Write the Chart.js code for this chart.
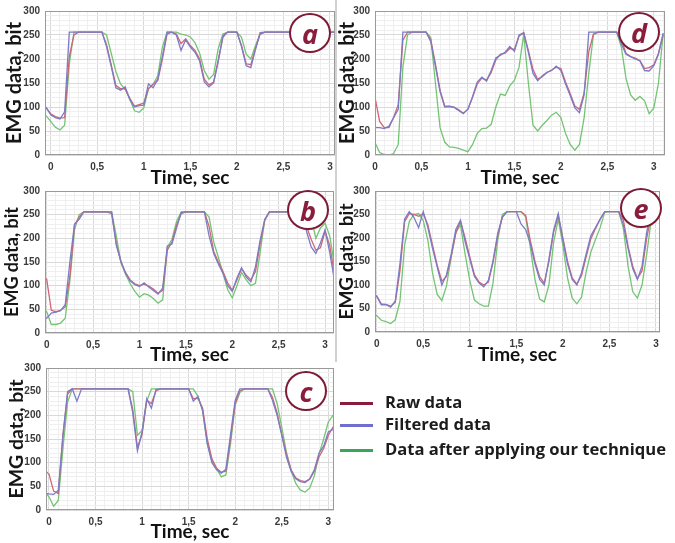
<!DOCTYPE html>
<html>
<head>
<meta charset="utf-8">
<script src="https://cdn.jsdelivr.net/npm/chart.js@4.4.1/dist/chart.umd.min.js"></script>
<style>
  html, body { margin: 0; padding: 0; background: #ffffff; }
  #fig { position: relative; width: 675px; height: 543px; overflow: hidden; background: #ffffff; }
  #fig canvas { position: absolute; }
  .tag {
    position: absolute; box-sizing: border-box; width: 42px; height: 40px;
    border: 2.5px solid #7d1b36; border-radius: 50%; background: #ffffff;
    color: #8a1d3c; font: italic bold 27px "Open Sans", sans-serif;
    display: flex; align-items: center; justify-content: center; line-height: 1;
  }
  .swatch { position: absolute; left: 340px; width: 33px; height: 3px; }
  .key { position: absolute; left: 385px; font: bold 16.6px "Open Sans", sans-serif; color: #1c1c1c; line-height: 20px; white-space: nowrap; }
  .sep { position: absolute; left: 335px; top: 0; width: 1.5px; height: 362px; background: #d2d2d2; }
</style>
</head>
<body>
<div id="fig">
  <div class="sep"></div>
  <canvas id="panelA" width="340" height="190" style="left:0px;top:0px;width:340px;height:190px"></canvas>
  <canvas id="panelD" width="340" height="190" style="left:335px;top:0px;width:340px;height:190px"></canvas>
  <canvas id="panelB" width="340" height="190" style="left:0px;top:180px;width:340px;height:190px"></canvas>
  <canvas id="panelE" width="340" height="190" style="left:335px;top:180px;width:340px;height:190px"></canvas>
  <canvas id="panelC" width="340" height="186" style="left:0px;top:357px;width:340px;height:186px"></canvas>

  <div class="tag" style="left:289px;top:13px">a</div>
  <div class="tag" style="left:618px;top:12px">d</div>
  <div class="tag" style="left:287px;top:190px">b</div>
  <div class="tag" style="left:620px;top:188px">e</div>
  <div class="tag" style="left:285px;top:371px">c</div>

  <div class="swatch" style="top:402px;background:#8b1c3c"></div>
  <div class="key" style="top:392px">Raw data</div>
  <div class="swatch" style="top:424px;background:#6f6fd0"></div>
  <div class="key" style="top:414px">Filtered data</div>
  <div class="swatch" style="top:449px;background:#3aa65a"></div>
  <div class="key" style="top:439px">Data after applying our technique</div>
</div>

<script>
// Sample times (s), shared by every panel
const timeSec = [-0.05, 0, 0.05, 0.1, 0.15, 0.2, 0.25, 0.3, 0.35, 0.4, 0.45, 0.5, 0.55, 0.6, 0.65, 0.7,
  0.75, 0.8, 0.85, 0.9, 0.95, 1, 1.05, 1.1, 1.15, 1.2, 1.25, 1.3, 1.35, 1.4, 1.45, 1.5, 1.55, 1.6, 1.65,
  1.7, 1.75, 1.8, 1.85, 1.9, 1.95, 2, 2.05, 2.1, 2.15, 2.2, 2.25, 2.3, 2.35, 2.4, 2.45, 2.5, 2.55, 2.6,
  2.65, 2.7, 2.75, 2.8, 2.85, 2.9, 2.95, 3, 3.05, 3.1];

// Panel a
const aRaw = [98,86,80,77,78,205,250,256,256,256,256,256,256,230,188,145,138,138,118,102,105,108,138,148,155,200,252,256,252,232,242,228,218,200,158,146,152,198,245,256,256,256,228,190,188,222,252,256,256,256,256,256,256,256,256,256,256,256,256,256,256,256,256,256];
const aFiltered = [100,84,78,75,90,256,256,256,256,256,256,256,256,226,185,140,135,142,115,100,103,104,148,140,158,205,256,256,250,218,240,225,214,196,152,142,150,195,248,256,256,256,226,186,182,220,255,256,256,256,256,256,256,256,256,256,256,256,256,256,256,256,256,256];
const aTechnique = [82,70,58,52,62,190,256,256,256,256,256,256,256,250,212,174,148,137,116,92,89,98,138,147,165,225,256,256,256,252,250,246,234,212,176,158,168,222,252,256,256,256,245,210,200,228,252,256,256,256,256,256,256,256,256,256,256,256,256,256,256,256,256,256];

// Panel b
const bRaw = [118,114,48,45,48,55,120,228,245,256,256,256,256,256,256,252,190,150,128,112,104,100,103,99,93,84,90,175,192,228,252,256,256,256,256,256,225,172,150,130,106,90,112,136,122,112,130,188,238,256,256,256,256,256,256,256,250,225,198,175,180,215,185,125];
const bFiltered = [35,31,42,44,47,60,150,230,240,256,256,256,256,256,256,256,185,152,126,110,102,98,106,97,90,82,95,184,188,222,255,256,256,256,256,256,205,168,146,126,100,88,116,138,118,108,140,196,240,256,256,256,256,256,256,256,256,215,182,168,190,218,170,112];
const bTechnique = [52,45,18,18,21,31,110,218,250,256,256,256,256,256,256,256,205,149,124,104,88,76,83,80,73,63,70,180,198,236,256,256,256,256,256,256,245,192,160,126,92,74,100,128,112,100,105,170,240,256,256,256,256,256,256,256,256,256,245,200,222,232,205,145];

// Panel c
const cRaw = [85,76,40,35,160,245,256,256,256,256,256,256,256,256,256,256,256,256,256,212,132,160,232,225,252,256,256,256,256,256,256,256,235,236,215,150,108,88,80,82,150,225,252,256,256,256,256,256,256,238,205,160,118,85,68,62,60,65,82,112,130,158,175,185];
const cFiltered = [36,34,33,42,155,250,256,230,256,256,256,256,256,256,256,256,256,256,256,205,125,165,235,215,255,256,256,256,256,256,256,256,230,240,210,140,100,85,78,86,160,232,256,256,256,256,256,256,256,232,200,158,112,82,66,60,58,66,85,120,135,165,170,190];
const cTechnique = [40,28,8,20,130,228,256,256,256,256,256,256,256,256,256,256,256,256,256,250,158,168,230,256,256,256,256,256,256,256,256,256,256,240,210,140,104,88,70,74,140,222,248,256,256,256,256,256,256,256,225,175,122,84,56,42,38,46,72,118,150,186,200,210];

// Panel d
const dRaw = [125,120,70,57,57,78,105,239,256,256,256,256,256,240,190,135,102,102,100,94,87,95,120,148,160,156,172,198,210,212,222,220,248,254,218,178,158,163,172,177,183,180,152,128,102,95,130,215,252,256,256,256,256,256,240,212,205,202,197,180,182,188,212,250];
const dFiltered = [58,57,57,55,60,78,95,256,256,256,256,256,256,236,185,132,100,101,99,93,86,96,122,152,162,154,176,202,208,214,226,216,250,255,214,170,155,165,172,176,185,176,148,124,98,88,125,256,256,256,256,256,256,256,232,210,205,200,196,176,175,186,210,254];
const dTechnique = [40,26,5,1,0,3,22,183,250,256,256,256,256,245,150,57,27,17,16,14,10,7,22,45,55,56,64,100,127,124,144,156,183,252,150,62,50,62,72,83,89,78,45,22,10,22,78,170,250,256,256,256,256,256,225,160,125,114,122,113,86,98,150,253];

// Panel e
const eRaw = [80,77,60,59,55,63,130,235,252,250,246,252,228,185,142,108,118,160,210,236,200,160,122,106,100,106,148,205,245,256,256,256,256,248,195,150,118,104,150,212,248,200,150,115,102,120,160,198,220,240,256,256,256,256,238,182,140,114,130,200,248,256,256,256];
const eFiltered = [78,76,58,58,53,66,145,240,256,244,222,256,222,178,138,100,122,165,218,238,192,155,118,104,96,110,152,210,244,256,256,256,230,218,188,145,112,100,155,216,252,195,145,112,100,126,166,205,222,240,256,256,256,256,228,178,135,112,140,212,256,256,256,256];
const eTechnique = [38,35,25,22,18,26,65,185,235,250,252,237,195,125,80,67,98,160,212,228,165,110,68,60,55,55,105,195,250,256,256,256,256,245,180,112,70,64,100,190,240,185,115,72,60,74,128,170,197,222,255,256,256,256,220,140,86,72,100,165,240,256,256,256];

// Series names
const seriesNames = ['Raw data', 'Filtered data', 'Data after applying our technique'];

// Layout of each subplot inside the figure
const panels = [
  { id: 'panelA', padTop: 8, padRight: 5, yAxisW: 45, xAxisH: 35, xMin: -0.061, xMax: 3.054, xTitlePad: 1,   yTitlePad: 3,   yTitleSize: 20,   series: [aRaw, aFiltered, aTechnique] },
  { id: 'panelD', padTop: 9, padRight: 10, yAxisW: 40, xAxisH: 35, xMin: 0,      xMax: 3.12,  xTitlePad: 1,   yTitlePad: 0.5, yTitleSize: 20,   series: [dRaw, dFiltered, dTechnique] },
  { id: 'panelB', padTop: 8, padRight: 6, yAxisW: 45, xAxisH: 37, xMin: -0.018, xMax: 3.096, xTitlePad: 3.6, yTitlePad: 1.7, yTitleSize: 18,   series: [bRaw, bFiltered, bTechnique] },
  { id: 'panelE', padTop: 8, padRight: 15, yAxisW: 40, xAxisH: 38, xMin: -0.018, xMax: 3.043, xTitlePad: 3.6, yTitlePad: 0,   yTitleSize: 19,   series: [eRaw, eFiltered, eTechnique] },
  { id: 'panelC', padTop: 8, padRight: 6, yAxisW: 46, xAxisH: 33, xMin: -0.032, xMax: 3.061, xTitlePad: 0,   yTitlePad: 5,   yTitleSize: 19.5, series: [cRaw, cFiltered, cTechnique] }
];

const lineColors = { raw: '#cf6677', filtered: '#7b7bc6', technique: '#74c474' };

function onStep(v, step) {
  return Math.abs(v / step - Math.round(v / step)) < 1e-6;
}
function commaDecimal(v) {
  return String(Math.round(v * 10) / 10).replace('.', ',');
}
function toPoints(values) {
  return timeSec.map((t, i) => ({ x: t, y: values[i] }));
}

// Grey box around the plotting area
const frameBox = {
  id: 'frameBox',
  afterDatasetsDraw(chart) {
    const a = chart.chartArea;
    const ctx = chart.ctx;
    ctx.save();
    ctx.strokeStyle = '#9a9a9a';
    ctx.lineWidth = 1;
    ctx.strokeRect(Math.round(a.left) + 0.5, Math.round(a.top) + 0.5,
                   Math.round(a.right - a.left) - 1, Math.round(a.bottom - a.top) - 1);
    ctx.restore();
  }
};

const tickFont = { family: 'Liberation Sans', weight: 'bold', size: 10 };

function buildPanel(p) {
  const [raw, filtered, technique] = p.series;
  new Chart(document.getElementById(p.id), {
    type: 'line',
    data: {
      datasets: [
        { label: seriesNames[1], data: toPoints(filtered), borderColor: lineColors.filtered, borderWidth: 1.3, pointRadius: 0, tension: 0, order: 1 },
        { label: seriesNames[0], data: toPoints(raw), borderColor: lineColors.raw, borderWidth: 1.3, pointRadius: 0, tension: 0, order: 2 },
        { label: seriesNames[2], data: toPoints(technique), borderColor: lineColors.technique, borderWidth: 1.3, pointRadius: 0, tension: 0, order: 3 }
      ]
    },
    options: {
      responsive: false,
      animation: false,
      events: [],
      layout: { padding: { top: p.padTop, right: p.padRight, left: 0, bottom: 0 } },
      plugins: { legend: { display: false }, tooltip: { enabled: false } },
      scales: {
        x: {
          type: 'linear', min: p.xMin, max: p.xMax,
          ticks: {
            stepSize: 0.1, autoSkip: false, includeBounds: false, maxRotation: 0, minRotation: 0, padding: 6,
            color: '#3a3a3a', font: tickFont,
            callback: v => onStep(v, 0.5) ? commaDecimal(v) : ''
          },
          grid: {
            drawTicks: false, lineWidth: 1,
            color: ctx => (ctx.tick && onStep(ctx.tick.value, 0.5)) ? '#d9d9d9' : '#efefef'
          },
          border: { display: false },
          title: {
            display: true, text: 'Time, sec', color: '#111111',
            font: { family: 'Lato', weight: 'bold', size: 19 },
            padding: { top: 0, bottom: p.xTitlePad }
          },
          afterFit: s => { s.height = p.xAxisH; }
        },
        y: {
          type: 'linear', min: 0, max: 300,
          ticks: {
            stepSize: 10, autoSkip: false, includeBounds: false, padding: 5,
            color: '#3a3a3a', font: tickFont,
            callback: v => onStep(v, 50) ? String(v) : ''
          },
          grid: {
            drawTicks: false, lineWidth: 1,
            color: ctx => (ctx.tick && onStep(ctx.tick.value, 50)) ? '#d9d9d9' : '#efefef'
          },
          border: { display: false },
          title: {
            display: true, text: 'EMG data, bit', color: '#161616',
            font: { family: 'Lato', weight: 'bold', size: p.yTitleSize },
            padding: { top: p.yTitlePad, bottom: 0 }
          },
          afterFit: s => { s.width = p.yAxisW; }
        }
      }
    },
    plugins: [frameBox]
  });
}

panels.forEach(buildPanel);
</script>
</body>
</html>
